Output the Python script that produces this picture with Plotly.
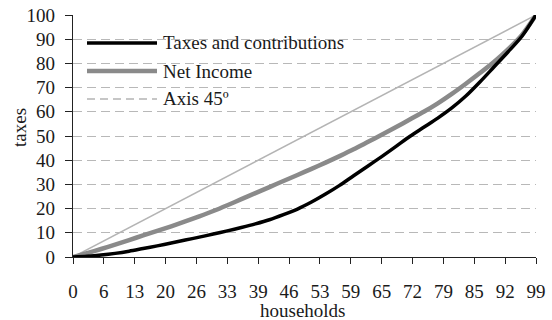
import plotly.graph_objects as go

# Cumulative shares (%) by household percentile
households = [0, 3, 6, 9, 12, 15, 18, 21, 24, 27, 30, 33, 36, 39, 42, 45, 48,
              51, 54, 57, 60, 63, 66, 69, 72, 75, 78, 81, 84, 87, 90, 93, 96, 99]
taxes_contrib = [0, 0.3, 0.8, 1.5, 2.4, 3.5, 4.6, 5.8, 7.0, 8.2, 9.5, 10.8, 12.2,
                 13.7, 15.4, 17.5, 19.8, 22.7, 26.0, 29.6, 33.6, 37.5, 41.5, 45.6,
                 49.8, 53.6, 57.4, 61.6, 66.5, 72.3, 78.5, 84.7, 91.2, 100]
net_income = [0, 1.6, 3.3, 5.1, 7.0, 8.9, 10.8, 12.7, 14.7, 16.8, 19.0, 21.4, 23.9,
              26.4, 28.9, 31.4, 33.9, 36.4, 39.0, 41.7, 44.5, 47.5, 50.5, 53.6,
              56.8, 60.0, 63.5, 67.4, 71.6, 76.0, 80.6, 85.8, 91.8, 100]
axis45_x = [0, 99]
axis45_y = [0, 100]

x_tick_labels = ["0", "6", "13", "20", "26", "33", "39", "46", "53", "59",
                 "65", "72", "79", "85", "92", "99"]
x_tick_pos = [i * 99 / (len(x_tick_labels) - 1) for i in range(len(x_tick_labels))]
y_ticks = list(range(0, 101, 10))

series_names = ["Taxes and contributions", "Net Income", "Axis 45º"]

FONT = "Liberation Serif"
FS = 19
TXT = "#1a1a1a"
W, H = 552, 320
ML, MR, MT, MB = 73, 16, 15, 63
PW, PH = W - ML - MR, H - MT - MB


def px_x(p):
    return (p - ML) / PW


def px_y(p):
    return (H - MB - p) / PH


fig = go.Figure()
fig.add_trace(go.Scatter(x=axis45_x, y=axis45_y, mode="lines",
                         line=dict(color="#b4b4b4", width=1.5), showlegend=False))
fig.add_trace(go.Scatter(x=households, y=net_income, mode="lines",
                         line=dict(color="#8a8a8a", width=4.5, shape="spline",
                                   smoothing=0.8),
                         showlegend=False))
fig.add_trace(go.Scatter(x=households, y=taxes_contrib, mode="lines",
                         line=dict(color="#000000", width=3.5, shape="spline",
                                   smoothing=0.8),
                         showlegend=False))

# legend drawn inside the plot, over a white panel that masks the grid
shapes = [dict(type="rect", xref="paper", yref="paper", layer="between",
               x0=0.002, x1=px_x(364), y0=px_y(123), y1=px_y(25),
               fillcolor="white", line=dict(width=0))]
legend_styles = [dict(color="#000000", width=3.5),
                 dict(color="#8a8a8a", width=4.5),
                 dict(color="#b4b4b4", width=1.5, dash="8px,5px")]
legend_rows = [43, 71, 99]
annotations = []
for name, style, row in zip(series_names, legend_styles, legend_rows):
    shapes.append(dict(type="line", xref="paper", yref="paper",
                       x0=px_x(87), x1=px_x(157), y0=px_y(row), y1=px_y(row),
                       line=style))
    annotations.append(dict(text=name, xref="paper", yref="paper",
                            x=px_x(161), y=px_y(row), xanchor="left",
                            yanchor="middle", showarrow=False,
                            font=dict(family=FONT, size=FS, color=TXT)))

annotations.append(dict(text="households", xref="paper", yref="paper",
                        x=px_x(303), y=px_y(310), xanchor="center",
                        yanchor="middle", showarrow=False,
                        font=dict(family=FONT, size=FS, color=TXT)))
annotations.append(dict(text="taxes", xref="paper", yref="paper",
                        x=px_x(19), y=px_y(128), xanchor="center",
                        yanchor="middle", textangle=-90, showarrow=False,
                        font=dict(family=FONT, size=FS, color=TXT)))

fig.update_layout(
    width=W, height=H,
    margin=dict(l=ML, r=MR, t=MT, b=MB, autoexpand=False),
    paper_bgcolor="white", plot_bgcolor="white",
    showlegend=False,
    font=dict(family=FONT, size=FS, color=TXT),
    shapes=shapes, annotations=annotations,
    xaxis=dict(range=[0, 99], tickmode="array", tickvals=x_tick_pos,
               ticktext=x_tick_labels, showgrid=False, zeroline=False,
               showline=True, linecolor="#222", linewidth=1.2,
               ticks="outside", ticklen=6, tickcolor="#222", tickwidth=1.2,
               automargin=False,
               ticklabelstandoff=11, tickfont=dict(family=FONT, size=FS, color=TXT)),
    yaxis=dict(range=[0, 100], tickmode="array", tickvals=y_ticks,
               showgrid=True, gridcolor="#b8b8b8", gridwidth=1.2, griddash="9px,5px",
               zeroline=False, showline=True, linecolor="#222", linewidth=1.2,
               ticks="outside", ticklen=7, tickcolor="#222", tickwidth=1.2,
               automargin=False,
               ticklabelstandoff=6, tickfont=dict(family=FONT, size=FS, color=TXT)),
)

fig.write_html("out.html")
